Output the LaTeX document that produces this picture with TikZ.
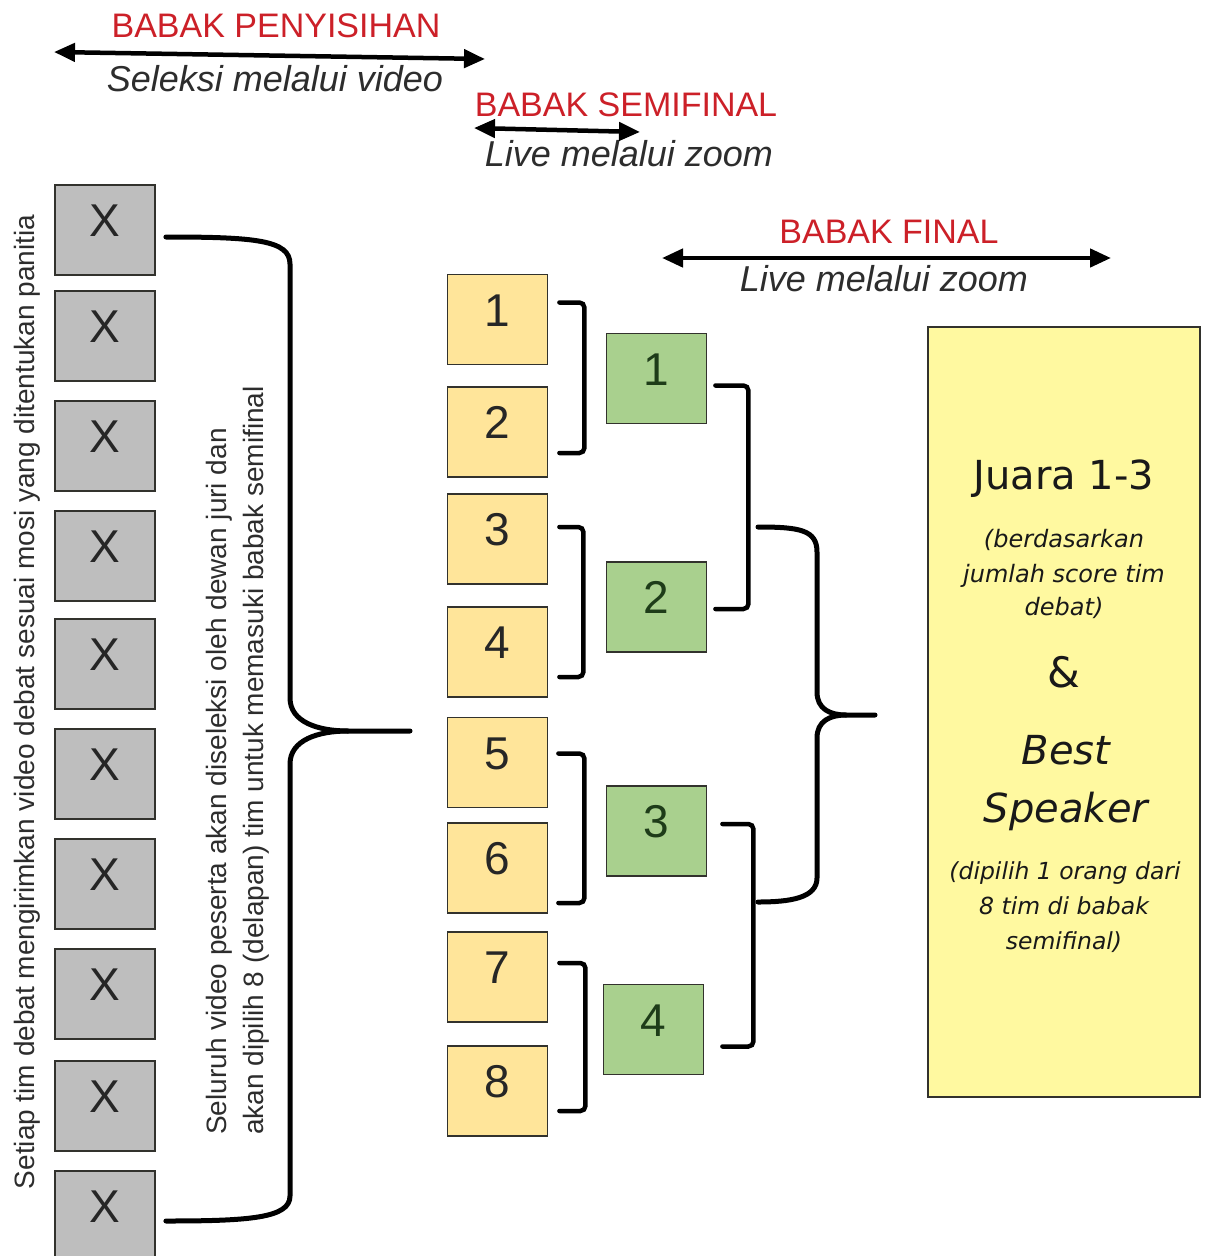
\documentclass[tikz,border=0pt]{standalone}
\usepackage{fontspec}
\setmainfont{Liberation Sans}
\newfontfamily\dvfont{DejaVu Sans}
\usetikzlibrary{arrows.meta,calc}
\definecolor{redtxt}{RGB}{204,32,40}
\definecolor{graytxt}{RGB}{45,45,45}
\definecolor{boxgray}{RGB}{190,190,190}
\definecolor{boxyellow}{RGB}{255,229,154}
\definecolor{boxgreen}{RGB}{169,208,142}
\definecolor{finyellow}{RGB}{255,249,160}
\definecolor{edgedark}{RGB}{50,50,45}
\definecolor{greentxt}{RGB}{30,60,25}
\newcommand\fsz[1]{\fontsize{#1}{#1}\selectfont}
\begin{document}
\begin{tikzpicture}[x=1pt,y=-1pt,
  box/.style={draw=edgedark, line width=1.8pt, minimum width=100pt, minimum height=90pt,
    inner sep=0pt, font=\fsz{46}, text height=33pt, text depth=20pt},
  gbox/.style={box, fill=boxgray, text=black!85},
  ybox/.style={box, fill=boxyellow, text=black!85},
  grbox/.style={box, fill=boxgreen, text=greentxt},
  brk/.style={line width=4.5pt, rounded corners=5pt, line cap=round},
  brace/.style={line width=5pt, line cap=round},
  dbl/.style={line width=4.5pt, {Triangle[length=21pt,width=18pt]}-{Triangle[length=21pt,width=18pt]}},
  head/.style={text=redtxt, font=\fsz{34}, inner sep=0pt, anchor=base},
  sub/.style={text=graytxt, font=\fsz{36}\itshape, inner sep=0pt, anchor=base},
  fintxt/.style={text=black!90, inner sep=0pt, anchor=base},
]
\useasboundingbox (0,0) rectangle (1205,1256);
\fill[white] (0,0) rectangle (1205,1256);

% headings
\node[head] (hp) at (276,37) {BABAK PENYISIHAN};
\node[sub] (sp) at (275,91) {Seleksi melalui video};
\node[head] (hs) at (626,116) {BABAK SEMIFINAL};
\node[sub] (ss) at (629,166) {Live melalui zoom};
\node[head] (hf) at (889,243) {BABAK FINAL};
\node[sub] (sf) at (884,291) {Live melalui zoom};

\coordinate (a1l) at (54,52); \coordinate (a1r) at (485,59);
\coordinate (a2l) at (474,128); \coordinate (a2r) at (640,132);
\coordinate (a3l) at (662,258); \coordinate (a3r) at (1111,258);
\draw[dbl] (a1l) -- (a1r);
\draw[dbl] (a2l) -- (a2r);
\draw[dbl] (a3l) -- (a3r);

% gray boxes
\foreach \i/\y in {1/230,2/336,3/446,4/556,5/664,6/774,7/884,8/994,9/1106,10/1216}
  \node[gbox] (x\i) at (105,\y) {X};

% rotated texts
\node[rotate=90, inner sep=0pt, text=graytxt, font=\fsz{28}] (t1) at (27,702)
  {Setiap tim debat mengirimkan video debat sesuai mosi yang ditentukan panitia};
\node[rotate=90, inner sep=0pt, anchor=west, align=left, text=graytxt,
  font=\fontsize{28}{37}\selectfont] (t2) at (238,1135)
  {Seluruh video peserta akan diseleksi oleh dewan juri dan\\
   akan dipilih 8 (delapan) tim untuk memasuki babak semifinal};

% yellow boxes
\foreach \i/\y in {1/319.5,2/432,3/539,4/652,5/762.5,6/868,7/977,8/1091}
  \node[ybox] (y\i) at (497.5,\y) {\i};

% green boxes
\node[grbox] (g1) at (656.5,378.5) {1};
\node[grbox] (g2) at (656.5,607) {2};
\node[grbox] (g3) at (656.5,831) {3};
\node[grbox] (g4) at (653.5,1029.5) {4};

% final box
\node[draw=edgedark, line width=2pt, fill=finyellow, minimum width=272pt,
  minimum height=770pt, inner sep=0pt] (fin) at (1064,712) {};
\node[fintxt, font=\dvfont\fsz{40}] (j1) at (1064,489) {Juara 1-3};
\node[fintxt, font=\dvfont\fsz{24}\itshape] (b1) at (1064,547) {(berdasarkan};
\node[fintxt, font=\dvfont\fsz{24}\itshape] (b2) at (1064,582) {jumlah score tim};
\node[fintxt, font=\dvfont\fsz{24}\itshape] (b3) at (1064,615) {debat)};
\node[fintxt, font=\dvfont\fsz{42}] (amp) at (1064,687) {\&};
\node[fintxt, font=\dvfont\fsz{40}\itshape] (s1) at (1066,764) {Best};
\node[fintxt, font=\dvfont\fsz{40}\itshape] (s2) at (1066,822) {Speaker};
\node[fintxt, font=\dvfont\fsz{23.5}\itshape] (d1) at (1065,879) {(dipilih 1 orang dari};
\node[fintxt, font=\dvfont\fsz{23.5}\itshape] (d2) at (1064,914) {8 tim di babak};
\node[fintxt, font=\dvfont\fsz{23.5}\itshape] (d3) at (1064,949) {semifinal)};

% big brace
\coordinate (bigtip) at (410,731);
\draw[brace] ([shift={(10,7)}]x1.east) .. controls (255,237) and (290,240) .. (290,264)
  -- (290,698) .. controls (290,722) and (318,731) .. (348,731) -- (bigtip);
\draw[brace] (348,731) .. controls (318,731) and (290,740) .. (290,764)
  -- (290,1196) .. controls (290,1218) and (250,1221) .. ([shift={(10,5)}]x10.east);

% yellow pair brackets
\draw[brk] ([shift={(11,-17)}]y1.east) -- ++(25,0) |- ([shift={(11,21)}]y2.east);
\draw[brk] ([shift={(11,-12)}]y3.east) -- ++(24,0) |- ([shift={(11,25)}]y4.east);
\draw[brk] ([shift={(10,-9)}]y5.east) -- ++(26,0) |- ([shift={(10,35)}]y6.east);
\draw[brk] ([shift={(11,-14)}]y7.east) -- ++(26,0) |- ([shift={(11,20)}]y8.east);

% green pair brackets
\draw[brk] ([shift={(8,7)}]g1.east) -- ++(33,0) |- ([shift={(8,2)}]g2.east);
\draw[brk] ([shift={(15,-7)}]g3.east) -- ++(31,0) |- ([shift={(18,17)}]g4.east);

% final brace
\coordinate (fa) at (758,527);
\coordinate (fb) at (758,902);
\coordinate (fintip) at (875,715);
\draw[brace] (fa) .. controls (800,527) and (817,530) .. (817,552)
  -- (817,692) .. controls (817,709) and (830,715) .. (846,715) -- (fintip);
\draw[brace] (846,715) .. controls (830,715) and (817,721) .. (817,738)
  -- (817,878) .. controls (817,898) and (790,902) .. (fb);
\end{tikzpicture}
\end{document}
